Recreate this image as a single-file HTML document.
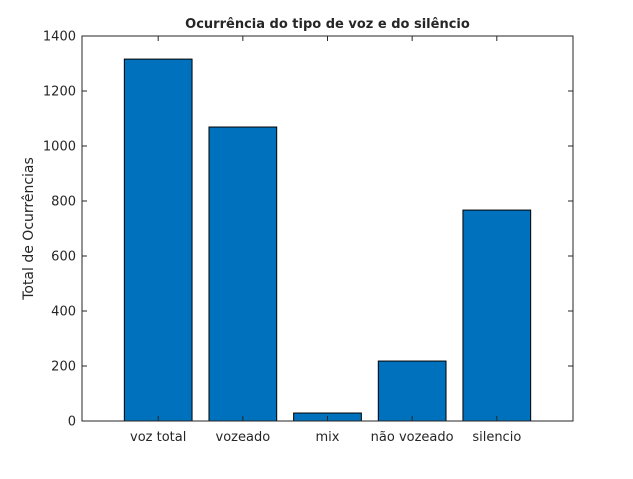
<!DOCTYPE html>
<html><head><meta charset="utf-8"><style>
body{margin:0;background:#fff;}
svg text{font-family:"DejaVu Sans","Liberation Sans",sans-serif;fill:#262626;}
</style></head><body>
<svg id="chart" width="633" height="474" xmlns="http://www.w3.org/2000/svg">
<rect width="633" height="474" fill="#fff"/>
<g id="plot"></g>
</svg>
<script>
const categories=["voz total","vozeado","mix","não vozeado","silencio"];
const values=[1316,1069,29,218,767];
const yTicks=[0,200,400,600,800,1000,1200,1400];
const L=82,R=573,T=36,B=421;
const xMin=0.1,xMax=5.9,yMax=1400;
const xs=v=>L+(v-xMin)/(xMax-xMin)*(R-L);
const ys=v=>B-v/yMax*(B-T);
const g=document.getElementById('plot');
const NS="http://www.w3.org/2000/svg";
function mk(t,a,p){const e=document.createElementNS(NS,t);for(const k in a)e.setAttribute(k,a[k]);(p||g).appendChild(e);return e;}
categories.forEach((c,i)=>{
  const x0=xs(i+1-0.4),x1=xs(i+1+0.4);
  const r=mk('rect',{x:x0,y:ys(values[i]),width:x1-x0,height:B-ys(values[i]),fill:'#0072BD',stroke:'#000','stroke-width':1});
  
  
  const t=mk('text',{x:xs(i+1),y:B+20,'text-anchor':'middle','font-size':13});
  t.textContent=c;
  
  
  mk('line',{x1:xs(i+1),x2:xs(i+1),y1:B,y2:B-5,stroke:'#262626'});
  mk('line',{x1:xs(i+1),x2:xs(i+1),y1:T,y2:T+5,stroke:'#262626'});
});
yTicks.forEach(v=>{
  const y=ys(v);
  mk('line',{x1:L,x2:L+5,y1:y,y2:y,stroke:'#262626'});
  mk('line',{x1:R,x2:R-5,y1:y,y2:y,stroke:'#262626'});
  const t=mk('text',{x:L-6,y:y+4.5,'text-anchor':'end','font-size':13});
  t.textContent=v;
  
  
});
const box=mk('rect',{x:L,y:T,width:R-L,height:B-T,fill:'none',stroke:'#262626','stroke-width':1});


const ti=mk('text',{x:(L+R)/2,y:28,'text-anchor':'middle','font-size':13,'font-weight':'bold'});
ti.textContent='Ocurrência do tipo de voz e do silêncio';


const yl=mk('text',{x:0,y:0,'text-anchor':'middle','font-size':14,transform:`translate(33,${(T+B)/2}) rotate(-90)`});
yl.textContent='Total de Ocurrências';


</script>
</body></html>
